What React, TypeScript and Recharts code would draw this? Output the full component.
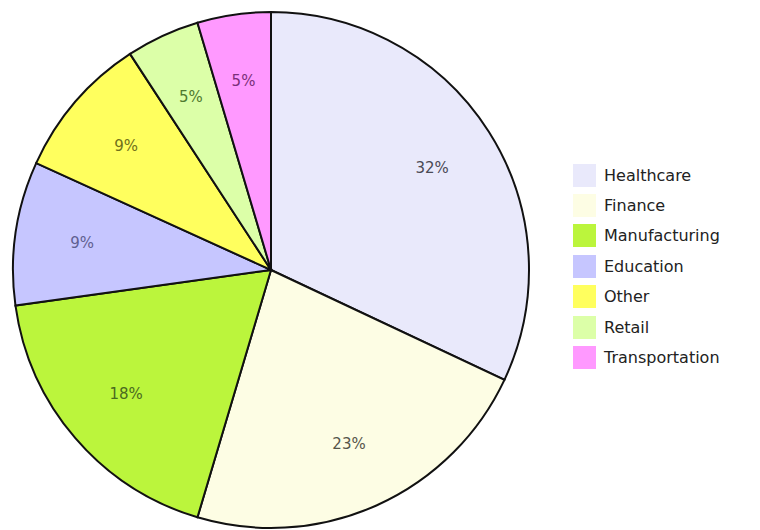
import React from 'react';
import { PieChart, Pie, Cell } from 'recharts';

document.body.style.margin = '0';

const sectors = ['Healthcare', 'Finance', 'Manufacturing', 'Education', 'Other', 'Retail', 'Transportation'];
const shares = [32, 22.6, 18.2, 9.0, 9.0, 4.6, 4.6];
const fills = ['#e9e9fb', '#fdfde4', '#bbf53c', '#c6c6ff', '#ffff5e', '#dcffa8', '#ff99ff'];
const labelColors = ['#4a4a55', '#55554a', '#4a6a20', '#5f5f90', '#70701a', '#4f7a2f', '#7a2f7a'];

const data = sectors.map((name, i) => ({ name, value: shares[i] }));

const RADIAN = Math.PI / 180;

const renderLabel = (props: any) => {
  const { cx, cy, midAngle, outerRadius, percent, index } = props;
  const r = outerRadius * 0.74;
  const x = cx + r * Math.cos(-midAngle * RADIAN);
  const y = cy + r * Math.sin(-midAngle * RADIAN);
  return (
    <text
      x={x}
      y={y}
      fill={labelColors[index]}
      textAnchor="middle"
      dominantBaseline="central"
      fontSize={15}
      fontFamily="DejaVu Sans, sans-serif"
    >
      {`${Math.round(percent * 100)}%`}
    </text>
  );
};

// legend is plain html laid over the chart so it doesn't push the pie around
function SectorLegend() {
  return (
    <div
      style={{
        position: 'absolute',
        left: 573,
        top: 160,
        fontFamily: 'DejaVu Sans, sans-serif',
        fontSize: 16,
        color: '#222',
      }}
    >
      {sectors.map((name, i) => (
        <div key={name} style={{ display: 'flex', alignItems: 'center', height: 30.4 }}>
          <span
            style={{
              display: 'inline-block',
              width: 23,
              height: 23,
              background: fills[i],
              marginRight: 8,
            }}
          />
          <span>{name}</span>
        </div>
      ))}
    </div>
  );
}

export default function App() {
  return (
    <div style={{ position: 'relative', width: 760, height: 530, background: '#fff' }}>
      <PieChart width={760} height={530} margin={{ top: 0, right: 0, bottom: 0, left: 0 }}>
        <Pie
          data={data}
          dataKey="value"
          nameKey="name"
          cx={271}
          cy={270}
          outerRadius={258}
          startAngle={90}
          endAngle={-270}
          stroke="#111"
          strokeWidth={2}
          label={renderLabel}
          labelLine={false}
          isAnimationActive={false}
        >
          {data.map((d, i) => (
            <Cell key={d.name} fill={fills[i]} />
          ))}
        </Pie>
      </PieChart>
      <SectorLegend />
    </div>
  );
}
